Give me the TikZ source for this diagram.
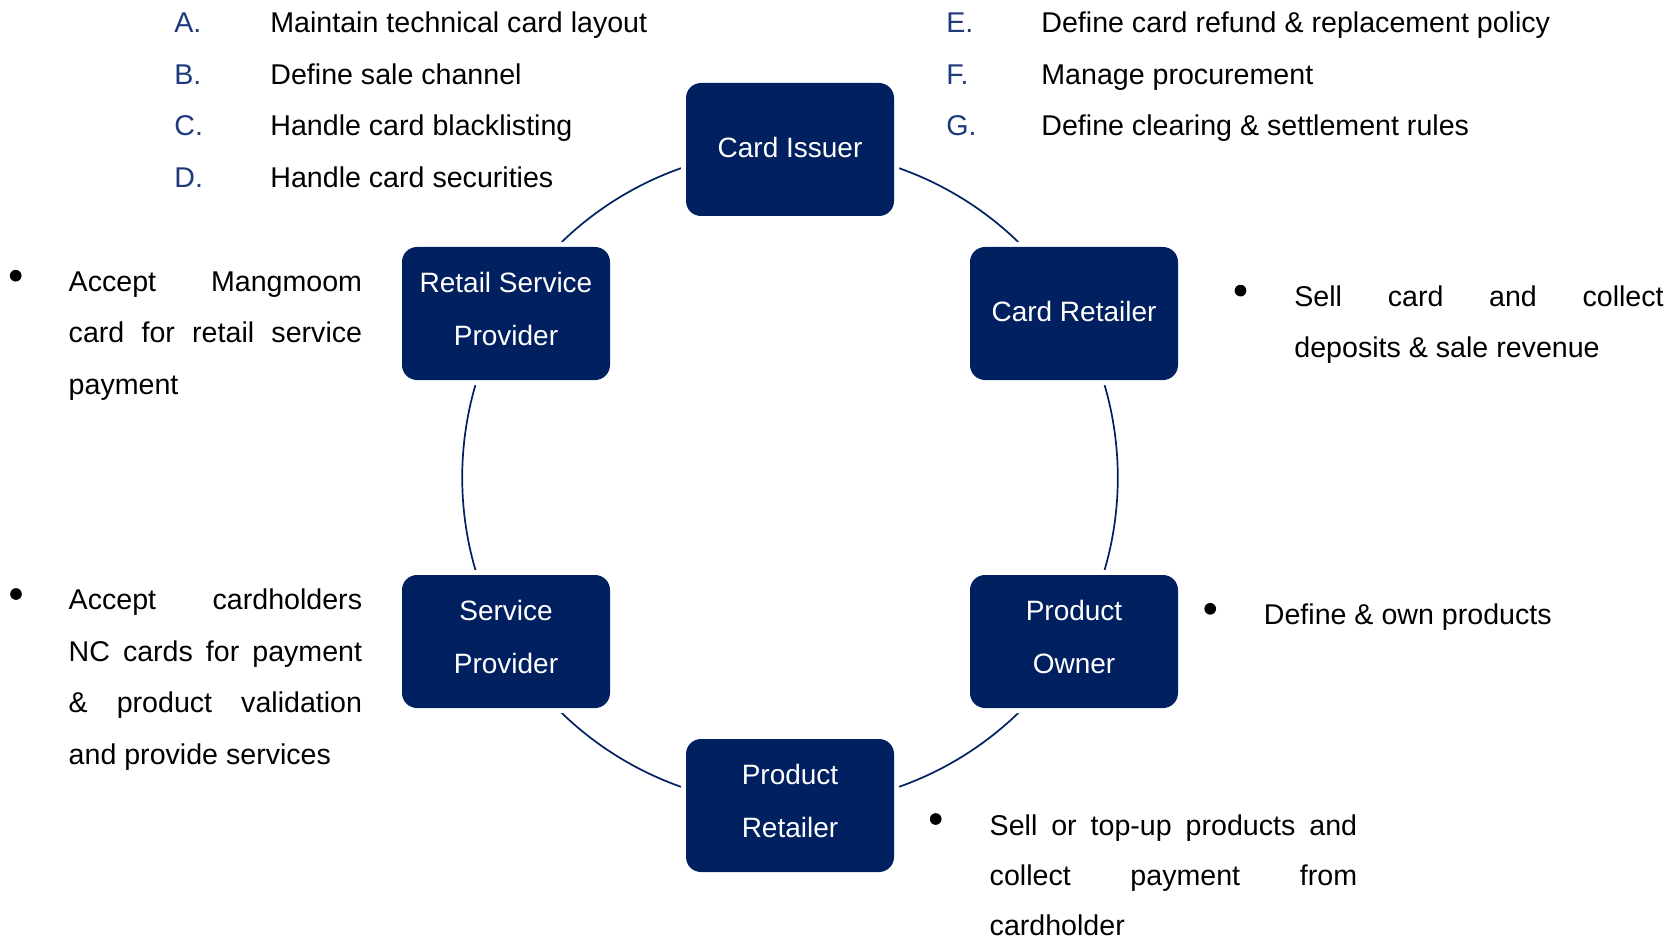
\documentclass[tikz,border=0pt]{standalone}
\usepackage{fontspec}
\setmainfont{Liberation Sans}
\usetikzlibrary{backgrounds}
\definecolor{navy}{HTML}{002060}
\definecolor{lettblue}{HTML}{1F3A7A}
\newcommand\lowstrut[1]{\rule[-#1]{0pt}{#1}}
\begin{document}
\begin{tikzpicture}[x=0.5pt,y=0.5pt,
  rolebox/.style={fill=navy, rounded corners=7.5pt, minimum width=104pt, minimum height=66.5pt,
    inner sep=0pt, text=white, align=center, font=\fontsize{14}{26.5}\selectfont,
    preaction={draw=white, line width=5pt}},
  conn/.style={draw=navy, line width=0.85pt},
  arcto/.style={bend right=30, looseness=0.913},
  txt/.style={anchor=base west, inner sep=0pt, font=\fontsize{14.3}{25.7}\selectfont, text=black},
  letter/.style={txt, text=lettblue},
  bul/.style={circle, fill=black, inner sep=0pt, minimum size=5.85pt}]
\useasboundingbox (0,0) rectangle (1669,939);

% role boxes
\node[rolebox] (CI)  at (790,789.5)  {Card Issuer\lowstrut{2.1pt}};
\node[rolebox] (RSP) at (506,625.5)  {Retail Service\\Provider\lowstrut{4.3pt}};
\node[rolebox] (CR)  at (1074,625.5) {Card Retailer\lowstrut{2.1pt}};
\node[rolebox] (SP)  at (506,297.5)  {Service\\Provider\lowstrut{4.3pt}};
\node[rolebox] (PO)  at (1074,297.5) {Product\\Owner\lowstrut{4.3pt}};
\node[rolebox] (PR)  at (790,133.5)  {Product\\Retailer\lowstrut{4.3pt}};

% circular connectors
\begin{scope}[on background layer]
  \fill[white] (0,0) rectangle (1669,939);
  \draw[conn] (CI.center)  to[arcto] (RSP.center);
  \draw[conn] (RSP.center) to[arcto] (SP.center);
  \draw[conn] (SP.center)  to[arcto] (PR.center);
  \draw[conn] (PR.center)  to[arcto] (PO.center);
  \draw[conn] (PO.center)  to[arcto] (CR.center);
  \draw[conn] (CR.center)  to[arcto] (CI.center);
\end{scope}

% top-left list
\node[letter] (lA) at (174,906)   {A.};
\node[letter] (lB) at (174,854.6) {B.};
\node[letter] (lC) at (174,803.4) {C.};
\node[letter] (lD) at (174,751.5) {D.};
\node[txt] (tA) at (270,906)   {Maintain technical card layout};
\node[txt] (tB) at (270,854.6) {Define sale channel};
\node[txt] (tC) at (270,803.4) {Handle card blacklisting};
\node[txt] (tD) at (270,751.5) {Handle card securities};

% top-right list
\node[letter] (lE) at (946,906)   {E.};
\node[letter] (lF) at (946,854.6) {F.};
\node[letter] (lG) at (946,803.4) {G.};
\node[txt] (tE) at (1041,906)   {Define card refund \& replacement policy};
\node[txt] (tF) at (1041,854.6) {Manage procurement};
\node[txt] (tG) at (1041,803.4) {Define clearing \& settlement rules};

% bullet descriptions
\node[bul] (b1) at (15.7,663.3) {};
\node[txt] (d1) at (68.3,647.5) {\parbox[t]{146.7pt}{Accept Mangmoom\linebreak card for retail service\linebreak payment}};

\node[bul] (b2) at (16,345) {};
\node[txt] (d2) at (68.3,329.2) {\parbox[t]{146.7pt}{Accept cardholders\linebreak NC cards for payment\linebreak \& product validation\linebreak and provide services}};

\node[bul] (b3) at (1240.5,648.4) {};
\node[txt] (d3) at (1294,632.5) {\parbox[t]{184.65pt}{Sell card and collect\linebreak deposits \& sale revenue}};

\node[bul] (b4) at (1210.2,330.2) {};
\node[txt] (d4) at (1263.5,314.3) {Define \& own products};

\node[bul] (b5) at (935.7,120) {};
\node[txt, font=\fontsize{14.3}{25.2}\selectfont] (d5) at (989.3,104) {\parbox[t]{183.7pt}{Sell or top-up products and\linebreak collect payment from\linebreak cardholder}};
\end{tikzpicture}
\end{document}
